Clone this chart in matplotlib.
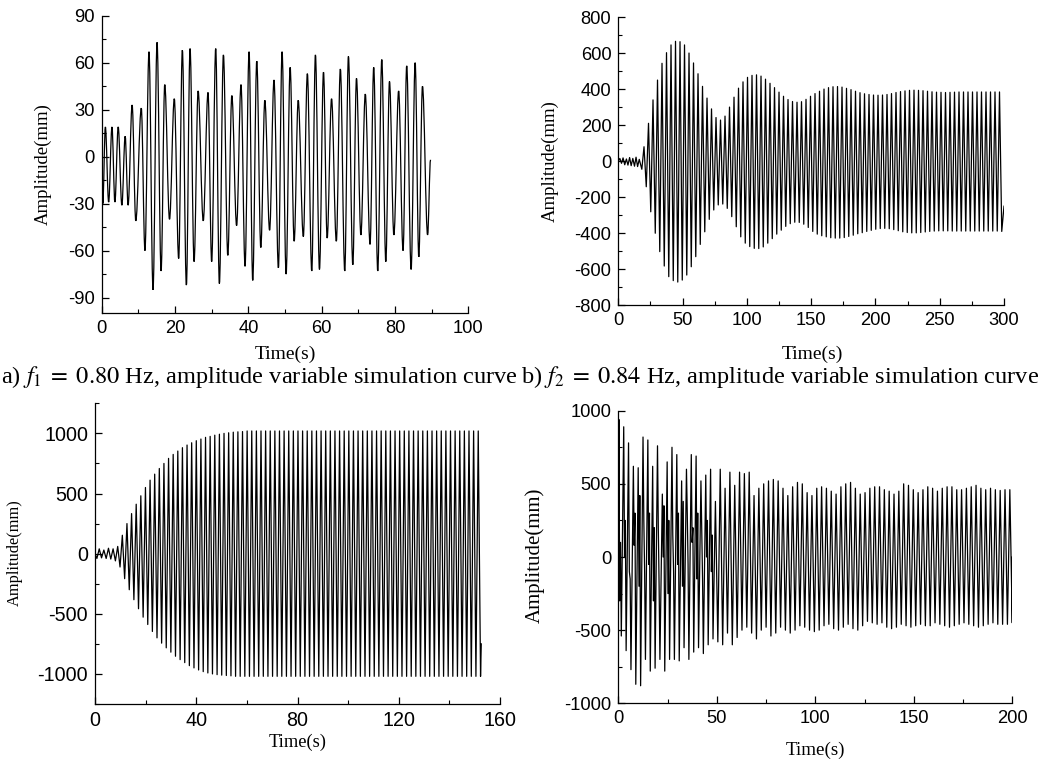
import numpy as np
import matplotlib
matplotlib.use("Agg")
import matplotlib.pyplot as plt
from matplotlib.ticker import MultipleLocator
from matplotlib.path import Path
from matplotlib.patches import PathPatch

plt.rcParams['font.family'] = ['Liberation Sans', 'DejaVu Sans']
plt.rcParams['mathtext.fontset'] = 'stix'

# ---- a) f1 = 0.80 Hz, extrema (time s, amplitude mm)
a_time = [0.0, 0.3, 1.0, 1.9, 2.8, 3.6, 4.5, 5.5, 6.4, 7.2, 8.3, 9.3, 10.8, 11.8,
          12.9, 14.0, 15.1, 16.2, 17.2, 18.5, 19.8, 21.0, 22.0, 23.1, 24.1, 25.2,
          26.3, 27.7, 29.0, 30.0, 31.1, 32.1, 33.2, 34.4, 35.5, 36.8, 38.0, 39.1,
          40.2, 41.2, 42.3, 43.4, 44.5, 45.8, 47.0, 48.2, 49.2, 50.3, 51.4, 52.5,
          53.6, 55.0, 56.1, 57.3, 58.3, 59.4, 60.5, 61.5, 62.7, 64.0, 65.1, 66.3,
          67.3, 68.5, 69.5, 70.7, 71.9, 73.2, 74.2, 75.3, 76.4, 77.5, 78.5, 79.7,
          81.0, 82.2, 83.2, 84.4, 85.5, 86.5, 87.5, 88.9, 89.7]
a_amp = [0, -30, 19, -29, 19, -29, 19, -31, 13, -31, 33, -41, 31, -60,
         67, -85, 73, -73, 46, -40, 37, -65, 68, -82, 69, -67,
         42, -41, 41, -67, 69, -81, 65, -63, 39, -44, 46, -70,
         67, -79, 61, -58, 36, -47, 49, -71, 67, -75, 57, -54,
         36, -51, 53, -73, 65, -72, 54, -52, 37, -54, 56, -73,
         64, -69, 50, -50, 40, -56, 57, -73, 62, -67, 48, -50,
         42, -60, 58, -72, 60, -64, 45, -50, -2]

# ---- b) f2 = 0.84 Hz
b_lead_t = [0, 1.2, 2.5, 3.7, 5.0, 6.3, 7.5, 8.8, 10.0, 11.3, 12.6, 13.8, 15.0, 16.3, 18.3]
b_lead_y = [0, 15, -12, 18, -20, 12, -22, 20, -25, 15, -28, 22, -30, 10, -45]
b_start, b_period = 20.0, 3.5
b_peaks = [80, 210, 340, 450, 543, 602, 645, 665, 663, 645,
           600, 545, 485, 415, 350, 290, 242, 228, 250, 300,
           355, 405, 440, 465, 476, 479, 472, 455, 432, 408,
           383, 360, 342, 331, 327, 330, 343, 360, 375, 388,
           400, 408, 413, 414, 411, 404, 397, 388, 380, 374,
           370, 367, 366, 367, 370, 375, 381, 386, 390, 393,
           394, 393, 391, 388, 385, 383, 382, 381, 382, 383,
           384, 384, 384, 384, 384, 384, 384, 384, 384, 384]
b_troughs = [-142, -281, -400, -502, -582, -641, -663, -671, -660, -632,
             -586, -530, -462, -392, -323, -271, -243, -238, -262, -308,
             -364, -420, -455, -474, -484, -485, -476, -455, -430, -405,
             -383, -362, -347, -339, -340, -350, -368, -390, -405, -414,
             -420, -425, -427, -427, -424, -418, -411, -403, -397, -390,
             -384, -378, -374, -373, -375, -380, -386, -392, -396, -398,
             -398, -396, -393, -390, -388, -387, -387, -387, -388, -388,
             -388, -388, -388, -388, -388, -388, -388, -388, -388, -390]
b_tail_t = [300]
b_tail_y = [-250]

# ---- c) third case, growing to steady state
c_lead_t = [0, 0.75]
c_lead_y = [0, -40]
c_start, c_period = 1.67, 1.826
c_peaks = [40, 30, 45, 40, 60, 153, 250, 333, 411, 481,
           550, 611, 661, 708, 750, 792, 825, 853, 881, 903,
           922, 939, 953, 967, 975, 985, 993, 1000, 1005, 1010,
           1013, 1015] + [1020] * 51
c_troughs = [-35, -40, -45, -60, -111, -208, -300, -383, -458, -528,
             -589, -647, -700, -744, -783, -819, -853, -881, -906, -931,
             -950, -967, -981, -992, -1000, -1006, -1010, -1013, -1016] + [-1020] * 54
c_tail_t = [152.6]
c_tail_y = [-750]

# ---- d) fourth case, irregular start
d_lead_t = [0]
d_lead_y = [0]
d_start, d_period = 0.3, 2.45
d_peaks = [940, 890, 780, 620, 610, 820, 800, 620, 760, 430,
           650, 750, 700, 520, 600, 700, 690, 520, 560, 600,
           380, 600, 470, 580, 490, 580, 570, 580, 420, 470,
           500, 520, 530, 520, 470, 420, 480, 510, 500, 440,
           420, 470, 480, 470, 450, 430, 480, 500, 510, 470,
           430, 440, 470, 480, 480, 460, 450, 430, 450, 500,
           490, 460, 440, 460, 480, 470, 450, 470, 480, 480,
           460, 460, 470, 480, 490, 470, 460, 470, 460, 455,
           460, 460]
d_troughs = [-540, -640, -770, -870, -880, -700, -780, -760, -700, -780,
             -700, -700, -710, -620, -700, -650, -620, -660, -600, -560,
             -580, -600, -520, -600, -550, -500, -480, -520, -560, -500,
             -480, -540, -520, -480, -500, -520, -500, -470, -480, -500,
             -510, -500, -470, -460, -490, -500, -480, -460, -490, -500,
             -470, -440, -450, -460, -450, -480, -490, -480, -460, -470,
             -480, -470, -460, -470, -470, -450, -460, -470, -480, -470,
             -460, -450, -460, -470, -480, -470, -460, -450, -460, -460,
             -460, -450]
# inner turning points seen in the first part of d (shallow trough, mid peak)
d_inner_lo = [-300, 0, -100, 80, -200, 250, -50, -300, 200, 0,
              -250, 150, -50, -200, 300, 100, -150, 200, 0, -100]
d_inner_hi = [100, 250, -150, 300, 420, -100, 300, 200, -200, 350,
              250, -100, 300, 380, -50, 200, 300, -150, 250, 150]
d_tail_t = [200]
d_tail_y = [0]


def build_wave(lead_t, lead_y, start, period, peaks, troughs, tail_t, tail_y,
               inner_lo=None, inner_hi=None):
    t, y = list(lead_t), list(lead_y)
    for k in range(len(peaks)):
        tp = start + k * period
        t.append(tp)
        y.append(peaks[k])
        if inner_lo is not None and k < len(inner_lo):
            t += [tp + period / 6, tp + period / 3]
            y += [inner_lo[k], inner_hi[k]]
        t.append(tp + period / 2)
        y.append(troughs[k])
    return np.array(t + list(tail_t)), np.array(y + list(tail_y))


def smooth_path(t, y, h=0.364):
    # cubic segments with flat tangents at every turning point
    verts = [(t[0], y[0])]
    codes = [Path.MOVETO]
    for i in range(1, len(t)):
        dt = t[i] - t[i - 1]
        verts += [(t[i - 1] + h * dt, y[i - 1]), (t[i] - h * dt, y[i]), (t[i], y[i])]
        codes += [Path.CURVE4] * 3
    return Path(verts, codes)


W, H = 1046, 762


def px_axes(left, top, right, bottom):
    return [left / W, 1 - bottom / H, (right - left) / W, (bottom - top) / H]


def style_axes(ax, xlim, ylim, xmaj, xmin, ymaj, ymin, tick_size=13.2):
    ax.set_xlim(*xlim)
    ax.set_ylim(*ylim)
    ax.xaxis.set_major_locator(MultipleLocator(xmaj))
    ax.xaxis.set_minor_locator(MultipleLocator(xmin))
    ax.yaxis.set_major_locator(MultipleLocator(ymaj))
    ax.yaxis.set_minor_locator(MultipleLocator(ymin))
    ax.spines['top'].set_visible(False)
    ax.spines['right'].set_visible(False)
    for s in ('left', 'bottom'):
        ax.spines[s].set_linewidth(0.9)
    ax.tick_params(which='major', direction='in', length=5, width=0.9,
                   labelsize=tick_size, pad=5)
    ax.tick_params(which='minor', direction='in', length=3, width=0.8)
    ax.yaxis.set_major_formatter(plt.FuncFormatter(lambda v, p: f"{v:g}"))
    ax.xaxis.set_major_formatter(plt.FuncFormatter(lambda v, p: f"{v:g}"))


fig = plt.figure(figsize=(W / 100, H / 100), dpi=100)

serif = ['Liberation Serif', 'DejaVu Serif']

# a)
ax_a = fig.add_axes(px_axes(101.7, 15.7, 468.3, 313.3))
ax_a.add_patch(PathPatch(smooth_path(a_time, a_amp), fill=False, ec='black', lw=0.9))
style_axes(ax_a, (0, 100), (-100, 90), 20, 10, 30, 15)

# b)
ax_b = fig.add_axes(px_axes(618.3, 17, 1004, 305.3))
bt, by = build_wave(b_lead_t, b_lead_y, b_start, b_period, b_peaks, b_troughs,
                    b_tail_t, b_tail_y)
ax_b.plot(bt, by, color='black', lw=0.9)
style_axes(ax_b, (0, 300), (-800, 800), 50, 25, 200, 100)

# c)
ax_c = fig.add_axes(px_axes(95, 403.3, 500, 704))
ct, cy = build_wave(c_lead_t, c_lead_y, c_start, c_period, c_peaks, c_troughs,
                    c_tail_t, c_tail_y)
ax_c.plot(ct, cy, color='black', lw=0.9)
style_axes(ax_c, (0, 160), (-1250, 1250), 40, 20, 500, 250, tick_size=14.2)

# d)
ax_d = fig.add_axes(px_axes(618.3, 410.7, 1012.3, 703.3))
dt, dy = build_wave(d_lead_t, d_lead_y, d_start, d_period, d_peaks, d_troughs,
                    d_tail_t, d_tail_y, d_inner_lo, d_inner_hi)
ax_d.plot(dt, dy, color='black', lw=0.9)
style_axes(ax_d, (0, 200), (-1000, 1000), 50, 25, 500, 250)


def px_text(x, y, s, size, **kw):
    fig.text(x / W, 1 - y / H, s, fontsize=size, family=serif, **kw)


# axis titles
px_text(43, 164, 'Amplitude(mm)', 13.5, rotation=90, ha='center', va='center')
px_text(550, 161, 'Amplitude(mm)', 13.5, rotation=90, ha='center', va='center')
px_text(15, 553, 'Amplitude(mm)', 11.8, rotation=90, ha='center', va='center')
px_text(535, 555, 'Amplitude(mm)', 15, rotation=90, ha='center', va='center')
px_text(285, 354, 'Time(s)', 14, ha='center', va='center')
px_text(812, 354, 'Time(s)', 14, ha='center', va='center')
px_text(298, 742, 'Time(s)', 13.2, ha='center', va='center')
px_text(815, 750, 'Time(s)', 13.7, ha='center', va='center')

# sub-figure captions
px_text(1, 377, r'a) $f_1\;=\;0.80$ Hz, amplitude variable simulation curve', 17.6,
        ha='left', va='center')
px_text(521, 377, r'b) $f_2\;=\;0.84$ Hz, amplitude variable simulation curve', 17.6,
        ha='left', va='center')

fig.savefig('out.png', dpi=100)
